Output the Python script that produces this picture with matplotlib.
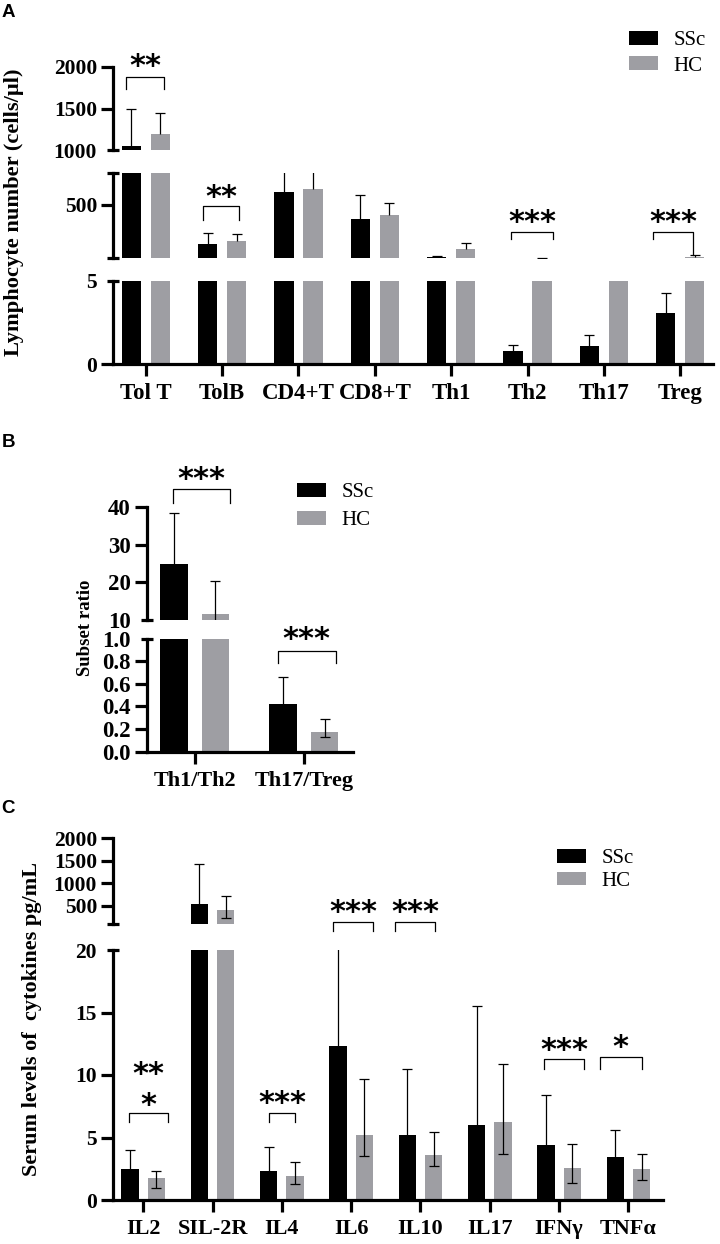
import matplotlib
matplotlib.use("Agg")
import matplotlib.pyplot as plt
from matplotlib.transforms import offset_copy

W, H = 720, 1244
plt.rcParams["font.family"] = ["Liberation Serif", "DejaVu Serif"]
plt.rcParams["font.weight"] = "bold"

SSC_CLR = "black"
HC_CLR = "#9e9ea3"
AX_LW = 2.3
ERR_LW = 0.9
BAR_W = 0.25
OFF = 0.19

# ---- A: lymphocyte numbers (cells/ul), HC errors drawn upwards only
a_cats = ["Tol T", "TolB", "CD4+T", "CD8+T", "Th1", "Th2", "Th17", "Treg"]
a_ssc = [1052, 139, 616, 368, 13, 0.78, 1.08, 3.09]
a_ssc_err = [442, 103, 230, 223, 9, 0.36, 0.67, 1.17]
a_hc = [1189, 169, 644, 405, 93, 7, 6.5, 16]
a_hc_err = [261, 61, 230, 117, 55, 3.5, 2, 19]

# ---- B: subset ratios
b_cats = ["Th1/Th2", "Th17/Treg"]
b_ssc = [24.9, 0.42]
b_ssc_err = [13.6, 0.236]
b_hc = [11.5, 0.17]
b_hc_up = [8.9, 0.12]
b_hc_lo = [8.9, 0.04]

# ---- C: serum cytokines (pg/mL)
c_cats = ["IL2", "SIL-2R", "IL4", "IL6", "IL10", "IL17", "IFNγ", "TNFα"]
c_ssc = [2.48, 537, 2.32, 12.35, 5.2, 6.0, 4.4, 3.41]
c_ssc_err = [1.52, 887, 1.95, 9.5, 5.28, 9.55, 4.0, 2.19]
c_hc = [1.74, 410, 1.92, 5.2, 3.6, 6.22, 2.59, 2.45]
c_hc_up = [0.61, 317, 1.15, 4.46, 1.82, 4.66, 1.86, 1.23]
c_hc_lo = [0.75, 170, 0.67, 1.65, 0.88, 2.54, 1.26, 0.88]

# significance brackets: (group, segment, x_left, x_right, y_top,
#                         y_leg_left, y_leg_right, stars, y_stars)
a_sig = [
    (0, 0, -0.26, 0.24, 1880, 1735, 1735, "**", 2117),
    (1, 1, -0.245, 0.215, 488, 359, 359, "**", 653),
    (5, 1, -0.22, 0.34, 249, 185, 185, "***", 423),
    (7, 1, -0.35, 0.17, 249, 185, 38, "***", 423),
]
b_sig = [
    (0, 0, -0.2, 0.32, 44.9, 41.1, 41.1, "***", 49.9),
    (1, 1, -0.24, 0.29, 0.892, 0.786, 0.786, "***", 1.075),
]
c_sig = [
    (0, 1, -0.2, 0.35, 6.98, 6.26, 6.26, "**\n*", 9.54),
    (2, 1, -0.19, 0.19, 6.98, 6.26, 6.26, "***", 8.5),
    (3, 1, -0.26, 0.32, 22.26, 21.52, 21.52, "***", 23.74),
    (4, 1, -0.37, 0.21, 22.26, 21.52, 21.52, "***", 23.74),
    (6, 1, -0.22, 0.36, 11.26, 10.5, 10.5, "***", 12.73),
    (7, 1, -0.41, 0.19, 11.46, 10.5, 10.5, "*", 12.93),
]


def px_axes(fig, x0, x1, ytop, ybot):
    return fig.add_axes([x0 / W, 1 - ybot / H, (x1 - x0) / W, (ybot - ytop) / H])


def draw_panel(fig, x0, x1, xlim, segs, cats, ssc, ssc_err, hc, hc_up, hc_lo,
               tick_fs, cat_fs):
    xs = list(range(len(cats)))
    axes = []
    for k, seg in enumerate(segs):
        lo, hi = seg["lim"]
        ax = px_axes(fig, x0, x1, *seg["px"])
        ax.set_facecolor("none")
        b1 = ax.bar([x - OFF for x in xs], ssc, BAR_W, color=SSC_CLR, linewidth=0)
        b2 = ax.bar([x + OFF for x in xs], hc, BAR_W, color=HC_CLR, linewidth=0)
        for i in xs:
            bars = [(i - OFF, ssc[i], ssc_err[i], None),
                    (i + OFF, hc[i], hc_up[i], None if hc_lo is None else hc_lo[i])]
            for x, v, up, dn in bars:
                # only draw the error bar in the segment its upper part reaches
                if v + up < lo or v > hi:
                    continue
                eb = ax.errorbar(x, v, yerr=[[dn or 0], [up]], fmt="none",
                                 ecolor="black", elinewidth=ERR_LW,
                                 capsize=3.6, capthick=ERR_LW)
                if dn is None:
                    eb[1][0].set_visible(False)
        ax.set_xlim(*xlim)
        ax.set_ylim(lo, hi)
        fmt = seg.get("fmt", "{:.0f}")
        ax.set_yticks(seg["major"], labels=[fmt.format(v) for v in seg["major"]])
        ax.set_yticks(seg["minor"],
                      labels=[fmt.format(v) if seg["minor_lab"] else "" for v in seg["minor"]],
                      minor=True)
        ax.tick_params(axis="y", which="major", direction="out", length=9,
                       width=AX_LW, pad=2.5, labelsize=tick_fs)
        ax.tick_params(axis="y", which="minor", direction="inout", length=9,
                       width=AX_LW, pad=2.5 + 4.5, labelsize=tick_fs)
        for s in ("top", "right"):
            ax.spines[s].set_visible(False)
        ax.spines["left"].set_linewidth(AX_LW)
        if k == len(segs) - 1:
            ax.spines["bottom"].set_linewidth(AX_LW)
            ax.set_xticks(xs, labels=cats)
            ax.tick_params(axis="x", direction="out", length=8.4, width=AX_LW,
                           pad=5.5, labelsize=cat_fs)
        else:
            ax.spines["bottom"].set_visible(False)
            ax.tick_params(axis="x", bottom=False, labelbottom=False)
        axes.append(ax)
    return axes, (b1, b2)


def draw_sig(fig, axes, sigs):
    for g, k, xl, xr, yt, yll, ylr, stars, sy in sigs:
        ax = axes[k]
        ax.plot([g + xl, g + xl, g + xr, g + xr], [yll, yt, yt, ylr],
                color="black", lw=0.9, clip_on=False)
        tr = offset_copy(ax.transData, fig=fig, y=-6.8, units="points")
        ax.text(g + (xl + xr) / 2, sy, stars, transform=tr, ha="center",
                va="center", fontsize=22, family="DejaVu Sans",
                weight="bold", linespacing=1.08, clip_on=False)


def add_legend(fig, handles, x, y, spacing):
    fig.legend(handles, ["SSc", "HC"], loc="upper left",
               bbox_to_anchor=(x / W, 1 - y / H), frameon=False,
               prop={"family": "Liberation Serif", "weight": "normal", "size": 15},
               handlelength=1.4, handleheight=0.63, handletextpad=0.75,
               labelspacing=spacing, borderpad=0, borderaxespad=0)


fig = plt.figure(figsize=(W / 100, H / 100), dpi=100)

# panel A
a_segs = [
    {"lim": (1000, 2000), "px": (67, 150), "major": [1500, 2000],
     "minor": [1000], "minor_lab": True},
    {"lim": (10, 800), "px": (172.7, 257.7), "major": [500],
     "minor": [10, 800], "minor_lab": False},
    {"lim": (0, 5), "px": (281, 364), "major": [0], "minor": [5],
     "minor_lab": True},
]
axA, hA = draw_panel(fig, 113, 713, (-0.43, 7.43), a_segs, a_cats, a_ssc,
                     a_ssc_err, a_hc, a_hc_err, None, 15.5, 16.5)
draw_sig(fig, axA, a_sig)
add_legend(fig, hA, 629, 31, 0.3)
fig.text(14 / W, 1 - 212 / H, "Lymphocyte number (cells/µl)", rotation=90,
         ha="center", va="center", fontsize=16.2)

# panel B
b_segs = [
    {"lim": (10, 40), "px": (507.3, 620), "major": [20, 30, 40],
     "minor": [10], "minor_lab": True},
    {"lim": (0, 1), "px": (638.5, 751.7), "major": [0, 0.2, 0.4, 0.6, 0.8],
     "minor": [1.0], "minor_lab": True, "fmt": "{:.1f}"},
]
axB, hB = draw_panel(fig, 146.7, 353, (-0.44, 1.45), b_segs, b_cats, b_ssc,
                     b_ssc_err, b_hc, b_hc_up, b_hc_lo, 16.5, 16)
draw_sig(fig, axB, b_sig)
add_legend(fig, hB, 297, 483, 0.43)
fig.text(85 / W, 1 - 628 / H, "Subset ratio", rotation=90,
         ha="center", va="center", fontsize=13.5)

# panel C
c_segs = [
    {"lim": (100, 2000), "px": (838.3, 924), "major": [500, 1000, 1500, 2000],
     "minor": [100], "minor_lab": False},
    {"lim": (0, 20), "px": (950, 1200), "major": [0, 5, 10, 15],
     "minor": [20], "minor_lab": True},
]
axC, hC = draw_panel(fig, 113, 663, (-0.437, 7.5), c_segs, c_cats, c_ssc,
                     c_ssc_err, c_hc, c_hc_up, c_hc_lo, 15.5, 16)
draw_sig(fig, axC, c_sig)
add_legend(fig, hC, 557, 849, 0.17)
fig.text(31.7 / W, 1 - 1019 / H, "Serum levels of  cytokines pg/mL", rotation=90,
         ha="center", va="center", fontsize=16)

# panel letters
for letter, ly in (("A", 4), ("B", 434), ("C", 800)):
    fig.text(1.5 / W, 1 - ly / H, letter, ha="left", va="top",
             family="Liberation Sans", weight="bold", fontsize=13.5)

fig.savefig("out.png", dpi=100)
